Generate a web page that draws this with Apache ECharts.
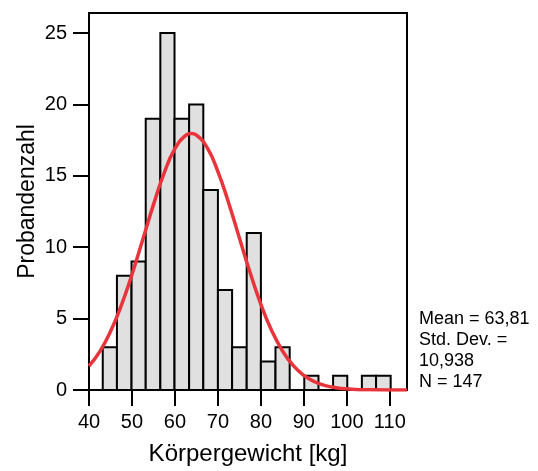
<!DOCTYPE html>
<html>
<head>
<meta charset="utf-8">
<script src="https://cdn.jsdelivr.net/npm/echarts@6/dist/echarts.min.js"></script>
<style>
  html, body { margin: 0; padding: 0; background: #fff; }
  #histChart { width: 538px; height: 471px; }
</style>
</head>
<body>
<div id="histChart"></div>
<script>
// bin edges (kg), 20 bins
const binEdges = [43.2, 46.5, 49.9, 53.2, 56.6, 59.9, 63.3, 66.6, 70.0, 73.3, 76.7,
                  80.0, 83.4, 86.7, 90.1, 93.4, 96.8, 100.1, 103.5, 106.8, 110.2];
const counts = [3, 8, 9, 19, 25, 19, 20, 14, 7, 3, 11, 2, 3, 0, 1, 0, 1, 0, 1, 1];

// fitted normal curve
const curveX = [40, 42.5, 45, 47.5, 50, 52.5, 55, 57.5, 60, 62.5, 63.8, 65, 67.5, 70, 72.5,
                75, 77.5, 80, 82.5, 85, 87.5, 90, 92.5, 95, 97.5, 100, 105, 110, 114];
const curveY = [1.68, 2.69, 4.09, 5.91, 8.09, 10.52, 12.98, 15.21, 16.90, 17.83, 17.96, 17.85, 16.97, 15.30, 13.10,
                10.64, 8.21, 6.00, 4.17, 2.75, 1.72, 1.02, 0.58, 0.31, 0.16, 0.08, 0.01, 0.0, 0.0];

const xTicks = [40, 50, 60, 70, 80, 90, 100, 110];
const yTicks = [0, 5, 10, 15, 20, 25];
const statsLines = ['Mean = 63,81', 'Std. Dev. =', '10,938', 'N = 147'];

const fontName = '"Liberation Sans", Arial, sans-serif';

let chart = echarts.init(document.getElementById('histChart'));

let binData = counts.map((c, i) => [binEdges[i], binEdges[i + 1], c]);
let curveData = curveX.map((x, i) => [x, curveY[i]]);

let option = {
  animation: false,
  backgroundColor: '#ffffff',
  grid: {
    left: 89,
    top: 13,
    width: 318,
    height: 377,
    outerBoundsMode: 'none',
    show: true,
    borderColor: '#000',
    borderWidth: 2,
    backgroundColor: 'transparent'
  },
  xAxis: {
    type: 'value',
    min: 40,
    max: 114,
    name: 'Körpergewicht [kg]',
    nameLocation: 'middle',
    nameGap: 52,
    nameMoveOverlap: false,
    nameTextStyle: { fontFamily: fontName, fontSize: 24, color: '#000' },
    axisLine: { lineStyle: { color: '#000', width: 2 } },
    axisTick: { length: 16, lineStyle: { color: '#000', width: 2 }, customValues: xTicks },
    axisLabel: { fontFamily: fontName, fontSize: 20, color: '#000', margin: 22, customValues: xTicks },
    splitLine: { show: false }
  },
  yAxis: {
    type: 'value',
    min: 0,
    max: 26.4,
    name: 'Probandenzahl',
    nameLocation: 'middle',
    nameGap: 50,
    nameMoveOverlap: false,
    nameTextStyle: { fontFamily: fontName, fontSize: 23, color: '#000' },
    axisLine: { show: true, lineStyle: { color: '#000', width: 2 } },
    axisTick: { show: true, length: 16, lineStyle: { color: '#000', width: 2 }, customValues: yTicks },
    axisLabel: { fontFamily: fontName, fontSize: 20, color: '#000', margin: 22, customValues: yTicks },
    splitLine: { show: false }
  },
  graphic: [{
    type: 'text',
    left: 419,
    top: 309,
    style: {
      text: statsLines.join('\n'),
      font: '18px ' + fontName,
      fill: '#000',
      lineHeight: 21
    }
  }],
  series: [
    {
      type: 'custom',
      data: binData,
      encode: { x: [0, 1], y: 2 },
      renderItem: function (params, api) {
        if (api.value(2) <= 0) return null;
        let p0 = api.coord([api.value(0), api.value(2)]);
        let p1 = api.coord([api.value(1), 0]);
        return {
          type: 'rect',
          shape: { x: p0[0], y: p0[1], width: p1[0] - p0[0], height: p1[1] - p0[1] },
          style: { fill: '#e0e0e0', stroke: '#000', lineWidth: 2 }
        };
      }
    },
    {
      type: 'line',
      data: curveData,
      smooth: true,
      showSymbol: false,
      lineStyle: { color: '#e8353b', width: 3.5 },
      z: 5
    }
  ]
};
chart.setOption(option);
</script>
</body>
</html>
